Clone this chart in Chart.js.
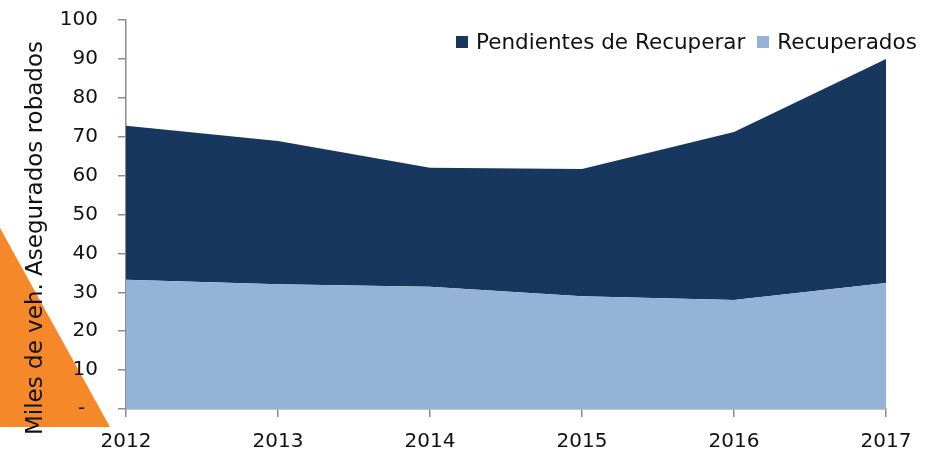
<!DOCTYPE html>
<html>
<head>
<meta charset="utf-8">
<script src="https://cdn.jsdelivr.net/npm/chart.js@4/dist/chart.umd.min.js"></script>
<style>
  html, body { margin: 0; padding: 0; background: #fff; }
  #wrap { position: relative; width: 933px; height: 462px; }
  #legend { position: absolute; top: 29px; left: 456px; font-family: "DejaVu Sans", sans-serif; font-size: 21.5px; color: #111; white-space: nowrap; }
  #legend span.box { display: inline-block; width: 12px; height: 12px; margin-right: 8px; vertical-align: 1px; }
  #legend span.item { margin-right: 12px; }
</style>
</head>
<body>
<div id="wrap">
  <canvas id="myChart" width="933" height="462"></canvas>
  <div id="legend"></div>
</div>
<script>
var years = ['2012', '2013', '2014', '2015', '2016', '2017'];
var recuperados = [33.2, 32.1, 31.4, 29.0, 28.0, 32.4];
var pendientes = [39.6, 36.8, 30.6, 32.7, 43.2, 57.6];
var yTicks = [0, 10, 20, 30, 40, 50, 60, 70, 80, 90, 100];
var yTitle = 'Miles de veh. Asegurados robados';

var FONT = '"DejaVu Sans", sans-serif';
var AXIS = '#8c8c8c';

// orange corner triangle behind the axis labels
var cornerDeco = {
  id: 'cornerDeco',
  beforeDraw: function(chart) {
    var ctx = chart.ctx;
    ctx.save();
    ctx.fillStyle = '#f5892a';
    ctx.beginPath();
    ctx.moveTo(0, 228);
    ctx.lineTo(110, 427);
    ctx.lineTo(0, 427);
    ctx.closePath();
    ctx.fill();
    ctx.restore();
  }
};

// rotated y title, placed like the original
var sideTitle = {
  id: 'sideTitle',
  afterDraw: function(chart) {
    var ctx = chart.ctx;
    ctx.save();
    ctx.translate(36, 238);
    ctx.rotate(-Math.PI / 2);
    ctx.font = '23px ' + FONT;
    ctx.fillStyle = '#111';
    ctx.textAlign = 'center';
    ctx.textBaseline = 'middle';
    ctx.fillText(yTitle, 0, 0);
    ctx.restore();
  }
};

var datasets = [
  { label: 'Recuperados', data: recuperados, backgroundColor: '#95b3d7', fill: 'origin' },
  { label: 'Pendientes de Recuperar', data: pendientes, backgroundColor: '#17375e', fill: '-1' }
];
datasets.forEach(function(d) {
  d.borderWidth = 0;
  d.pointRadius = 0;
  d.tension = 0;
});

new Chart(document.getElementById('myChart'), {
  type: 'line',
  data: { labels: years, datasets: datasets },
  plugins: [cornerDeco, sideTitle],
  options: {
    responsive: false,
    animation: false,
    layout: { padding: { top: 20, right: 47, left: 0, bottom: 0 } },
    plugins: { legend: { display: false }, tooltip: { enabled: false } },
    scales: {
      x: {
        offset: false,
        z: 1,
        grid: { drawOnChartArea: false, tickLength: 8, color: AXIS, lineWidth: 1.5 },
        border: { color: AXIS, width: 1.5 },
        ticks: { color: '#111', font: { family: FONT, size: 20 }, padding: 13, maxRotation: 0 },
        afterFit: function(scale) {
          scale.height = 53;
          scale.paddingLeft = 0;
          scale.paddingRight = 0;
        }
      },
      y: {
        stacked: true,
        min: 0,
        max: 100,
        z: 1,
        afterBuildTicks: function(scale) {
          scale.ticks = yTicks.map(function(v) { return { value: v }; });
        },
        grid: { drawOnChartArea: false, tickLength: 8, color: AXIS, lineWidth: 1.5 },
        border: { color: AXIS, width: 1.5 },
        ticks: {
          color: '#111',
          font: { family: FONT, size: 20 },
          padding: 20,
          callback: function(v) { return v === 0 ? '-  ' : v; }
        },
        afterFit: function(scale) {
          scale.width = 126;
          scale.paddingTop = 0;
          scale.paddingBottom = 0;
        }
      }
    }
  }
});

// legend: Pendientes first, then Recuperados
var legend = document.getElementById('legend');
datasets.slice().reverse().forEach(function(d) {
  var item = document.createElement('span');
  item.className = 'item';
  item.innerHTML = '<span class="box" style="background:' + d.backgroundColor + '"></span>' + d.label;
  legend.appendChild(item);
});
</script>
</body>
</html>
